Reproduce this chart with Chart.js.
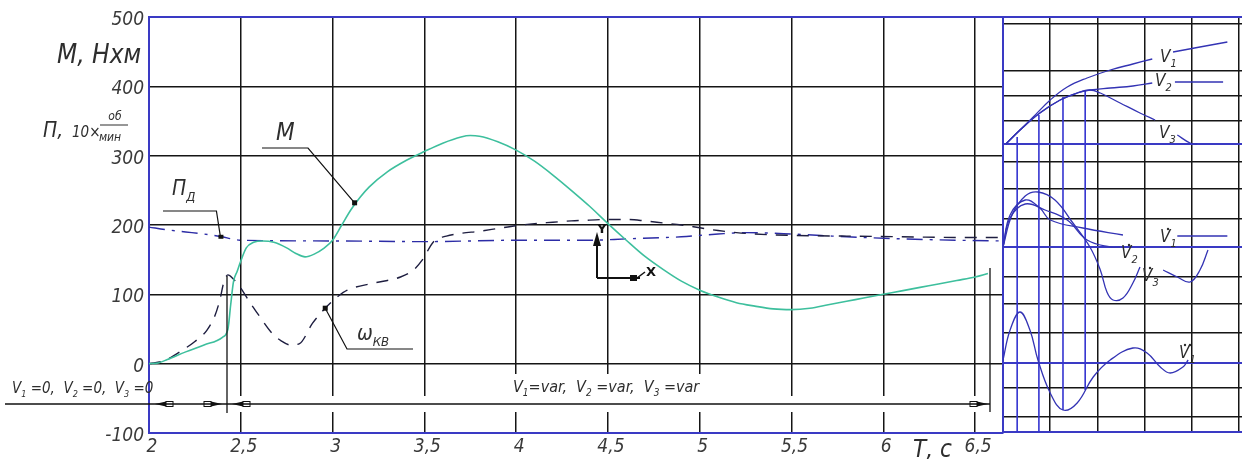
<!DOCTYPE html>
<html><head><meta charset="utf-8">
<script src="https://cdn.jsdelivr.net/npm/chart.js@4.4.1/dist/chart.umd.min.js"></script>
<style>
html,body{margin:0;padding:0;background:#fff;overflow:hidden;}
#wrap{position:relative;width:1242px;height:459px;}
#main{position:absolute;left:0;top:0;}
#sidebox{position:absolute;left:1003px;top:0;width:239px;height:459px;}
</style></head><body>
<div id="wrap">
<canvas id="main" width="1242" height="459"></canvas>
<div id="sidebox"><canvas id="side" width="239" height="459"></canvas></div>
</div>
<script>
// ---------- main chart data ----------
const timeM  = [2.0,2.05,2.1,2.2,2.3,2.4,2.43,2.445,2.46,2.48,2.5,2.53,2.57,2.62,2.68,2.75,2.8,2.85,2.9,2.95,3.0,3.05,3.1,3.15,3.2,3.3,3.4,3.5,3.6,3.7,3.75,3.8,3.9,4.0,4.1,4.2,4.3,4.4,4.5,4.6,4.7,4.8,4.9,5.0,5.1,5.2,5.3,5.4,5.5,5.6,5.7,5.8,5.9,6.0,6.1,6.2,6.3,6.4,6.5,6.57];
const torqueM= [0,1,6,17,27,38,50,85,118,133,148,167,175,177,175,167,159,154,158,166,178,200,222,240,255,277,293,306,318,327,329,328,320,308,292,272,250,227,202,178,155,136,119,106,96,88,83,79,78,80,85,90,95,100,105,110,115,120,125,130];

const timeW  = [2.0,2.08,2.185,2.25,2.315,2.36,2.386,2.41,2.43,2.46,2.495,2.55,2.59,2.67,2.72,2.77,2.82,2.89,2.96,3.02,3.08,3.22,3.37,3.44,3.49,3.55,3.62,3.7,3.8,3.9,4.0,4.1,4.2,4.3,4.4,4.5,4.6,4.7,4.8,4.9,5.0,5.1,5.2,5.3,5.5,5.8,6.1,6.4,6.65];
const omegaKV= [0,4,20,32,48,70,92,120,128,122,111,88,73,44,33,27,29,58,80,95,106,116,125,135,150,176,184,188,191,195,199,202,204,206,207,208,208,206,203,200,196,192,189,187,185,184,183,182,182];

const timePd = [2.0,2.1,2.2,2.3,2.4,2.45,2.5,3.0,3.5,4.0,4.4,4.6,4.9,5.1,5.25,5.5,5.8,6.1,6.4,6.65];
const speedPd= [197,193,190,187,183,180,178,177,176,178,178,180,183,187,189,187,183,180,178,177];

const xTickValues = [2,2.5,3,3.5,4,4.5,5,5.5,6,6.5];
const yTickValues = [-100,0,100,200,300,400,500];

// ---------- right panel data (panel units) ----------
const panelXGrid = [0,1,2,3,4,5];
const panelYGrid = [0,15,44,69,99,128,155,185,213,243,270,288,311,336,361,408,415];
const panelBlueRows = [0,69,185,288,415];

const v1X = [0.06,0.36,0.64,1.0,1.36,1.78,2.27,2.75,3.16,3.38,3.60,4.17,4.75];
const v1Y = [288,302,315,332,345,354,362,368,373,null,380,385,390];
const v2X = [0.06,0.36,0.78,1.21,1.57,1.84,2.27,2.75,3.16,3.40,3.64,4.66];
const v2Y = [288,302,319,332,339,342,344,346,349,null,350,350];
const v3X = [0.06,0.36,0.78,1.21,1.57,1.84,2.06,2.48,2.90,3.22,3.45,3.69,3.96,4.11];
const v3Y = [288,302,319,332,339,342,339,329,319,312,null,297,289,288];

const vd1X = [0.0,0.15,0.47,0.78,1.0,1.69,2.54,3.1,3.69,4.75];
const vd1Y = [185,217,232,224,212,204,197,null,196,196];
const vd2X = [0.0,0.15,0.47,0.89,1.36,1.78,2.27,2.48];
const vd2Y = [185,214,228,222,212,192,185,185];
const vd3X = [0.0,0.19,0.47,0.74,1.10,1.48,1.84,2.06,2.20,2.33,2.54,2.75,2.90,3.15,3.39,3.69,3.96,4.17,4.34];
const vd3Y = [185,217,236,240,232,209,185,162,140,132,134,149,165,null,162,155,150,162,182];
const vdd1X = [0,0.15,0.36,0.57,0.74,1.0,1.27,1.57,1.91,2.27,2.75,3.05,3.33,3.54,3.81,3.92];
const vdd1Y = [72,102,120,102,72,39,22,29,55,72,84,79,65,59,65,72];

const dropX   = [0.30,0.76,1.27,1.74];
const dropTop = [295,317,335,341];
const dropBot = [0,0,22,42];

// ---------- helpers ----------
const FONT = "'Liberation Sans Narrow','DejaVu Sans Condensed',sans-serif";
const BLUE = '#3a3ac4';
const INK = '#2e2e2e';
const pts = (xs, ys) => xs.map((x,i)=>({x:x, y:ys[i]}));

function sub(ctx, parts, x, y, size){
  let cx = x;
  for (const [t, s] of parts){
    ctx.font = 'italic ' + (s ? Math.round(size*0.62) : size) + 'px ' + FONT;
    ctx.fillText(t, cx, s ? y + size*0.28 : y);
    cx += ctx.measureText(t).width;
  }
  return cx;
}
function line(ctx, pts, w){
  ctx.beginPath(); ctx.lineWidth = w||1.2;
  ctx.moveTo(pts[0][0], pts[0][1]);
  for (let i=1;i<pts.length;i++) ctx.lineTo(pts[i][0], pts[i][1]);
  ctx.stroke();
}
function arrow(ctx, tip, y, dir){
  ctx.fillStyle = '#111';
  ctx.beginPath();
  ctx.moveTo(tip, y); ctx.lineTo(tip - dir*11, y-2.5); ctx.lineTo(tip - dir*11, y+2.5); ctx.closePath(); ctx.fill();
  ctx.lineWidth = 1; ctx.strokeStyle = '#111';
  ctx.strokeRect(Math.min(tip - dir*11, tip - dir*18), y-2.5, 7, 5);
}

// ---------- main chart ----------
const mainDecor = {
  id:'mainDecor',
  beforeDatasetsDraw(chart){
    const c = chart.ctx, a = chart.chartArea;
    c.save();
    c.fillStyle = '#fff';
    c.fillRect(a.left+1, 396, a.right-a.left-2, 16);
    c.fillRect(508, 374, 200, 24);
    c.restore();
  },
  afterDraw(chart){
    const c = chart.ctx, a = chart.chartArea, xs = chart.scales.x, ys = chart.scales.y;
    c.save();
    c.strokeStyle = BLUE;
    line(c, [[a.left, a.top],[a.right, a.top],[a.right, a.bottom]], 2);
    c.strokeStyle = '#111';
    line(c, [[5,404],[990,404]], 1.3);
    line(c, [[227,276],[227,413]], 1.3);
    line(c, [[990,268],[990,412]], 1.3);
    arrow(c, 155, 404, -1);
    arrow(c, 222, 404, 1);
    arrow(c, 232, 404, -1);
    arrow(c, 988, 404, 1);
    c.fillStyle = INK; c.textBaseline = 'alphabetic'; c.textAlign = 'left';
    sub(c, [['V',0],['1',1],[' =0,  V',0],['2',1],[' =0,  V',0],['3',1],[' =0',0]], 12, 393, 15);
    sub(c, [['V',0],['1',1],['=var,  V',0],['2',1],[' =var,  V',0],['3',1],[' =var',0]], 513, 392, 16);
    c.font = 'italic 26px ' + FONT;
    c.fillText('М, Нхм', 57, 63);
    c.font = 'italic 21px ' + FONT;
    c.fillText('П,', 43, 137);
    c.font = 'italic 15px ' + FONT;
    c.fillText('10×', 72, 137);
    c.strokeStyle = INK; line(c, [[100,125],[128,125]], 1);
    c.font = 'italic 12px ' + FONT; c.textAlign = 'center';
    c.fillText('об', 115, 120);
    c.fillText('мин', 110, 141);
    c.textAlign = 'left';
    c.font = 'italic 24px ' + FONT;
    c.fillText('Т, с', 913, 457);
    sub(c, [['П',0],['Д',1]], 172, 195, 21);
    c.strokeStyle = '#111';
    const pdx = xs.getPixelForValue(2.4), pdy = ys.getPixelForValue(183);
    line(c, [[163,211],[pdx-6,211],[pdx-2,pdy]], 1.2);
    c.fillStyle = '#111'; c.fillRect(pdx-4, pdy-2, 5, 4);
    c.fillStyle = INK;
    c.font = 'italic 24px ' + FONT; c.fillText('M', 276, 140);
    const mx = xs.getPixelForValue(3.12), my = ys.getPixelForValue(232);
    line(c, [[262,148],[308,148],[mx,my]], 1.2);
    c.fillStyle = '#111'; c.fillRect(mx-2.5, my-2.5, 5, 5);
    const wx = xs.getPixelForValue(2.96), wy = ys.getPixelForValue(80);
    line(c, [[wx,wy],[347,349],[413,349]], 1.2);
    c.fillRect(wx-2.5, wy-2.5, 5, 5);
    c.fillStyle = INK;
    sub(c, [['ω',0],['КВ',1]], 357, 340, 21);
    c.strokeStyle = '#111'; c.fillStyle = '#111';
    line(c, [[597,278],[597,238]], 2);
    line(c, [[597,278],[640,278]], 2);
    c.beginPath(); c.moveTo(597,232); c.lineTo(593,246); c.lineTo(601,246); c.closePath(); c.fill();
    c.fillRect(630,275,7,6);
    line(c, [[637,278],[645,272]], 1.5);
    c.font = 'bold 13px DejaVu Sans'; c.textAlign='center';
    c.fillText('Y', 602, 233);
    c.fillText('X', 651, 276);
    c.restore();
  }
};

new Chart(document.getElementById('main'), {
  type:'line',
  data:{datasets:[
    {label:'M', data:pts(timeM, torqueM), borderColor:'#3dbf9d', borderWidth:1.6, pointRadius:0, cubicInterpolationMode:'monotone', fill:false},
    {label:'ωКВ', data:pts(timeW, omegaKV), borderColor:'#1e1e40', borderWidth:1.4, borderDash:[12,9], pointRadius:0, cubicInterpolationMode:'monotone', fill:false},
    {label:'ПД', data:pts(timePd, speedPd), borderColor:'#2c2ca6', borderWidth:1.4, borderDash:[16,7,3,7], pointRadius:0, cubicInterpolationMode:'monotone', fill:false}
  ]},
  options:{
    responsive:false, animation:false, devicePixelRatio:1,
    layout:{padding:{top:17,right:239,left:0,bottom:0}},
    plugins:{legend:{display:false}, tooltip:{enabled:false}},
    scales:{
      x:{type:'linear', min:2, max:6.652,
        afterBuildTicks(s){ s.ticks = xTickValues.map(v=>({value:v})); },
        afterFit(s){ s.height = 26; },
        grid:{color:ctx=> (ctx.tick && ctx.tick.value===2) ? 'rgba(0,0,0,0)' : '#151515', lineWidth:1.5, drawTicks:false},
        border:{color:BLUE, width:2},
        ticks:{callback:v=>String(v).replace('.',','), autoSkip:false, maxRotation:0, padding:3, labelOffset:3, color:'#3a3a3a',
               font:{family:FONT, size:19, style:'italic'}}
      },
      y:{min:-100, max:500,
        afterBuildTicks(s){ s.ticks = yTickValues.map(v=>({value:v})); },
        afterFit(s){ s.width = 149; },
        grid:{color:ctx=> (ctx.tick && (ctx.tick.value===-100 || ctx.tick.value===500)) ? 'rgba(0,0,0,0)' : '#151515', lineWidth:1.5, drawTicks:false},
        border:{color:BLUE, width:2},
        ticks:{callback:v=> v<0 ? '-'+Math.abs(v) : String(v), padding:5, labelOffset:3, color:'#3a3a3a',
               font:{family:FONT, size:19, style:'italic'}}
      }
    }
  },
  plugins:[mainDecor]
});

// ---------- right panel ----------
const sideDecor = {
  id:'sideDecor',
  afterDraw(chart){
    const c = chart.ctx;
    c.save();
    c.fillStyle = INK; c.textBaseline='alphabetic';
    const o = 1003;
    sub(c, [['V',0],['1',1]], 1160-o, 62, 17);
    sub(c, [['V',0],['2',1]], 1155-o, 86, 17);
    sub(c, [['V',0],['3',1]], 1159-o, 138, 17);
    sub(c, [['V',0],['1',1]], 1160-o, 242, 17);
    sub(c, [['V',0],['2',1]], 1121-o, 258, 17);
    sub(c, [['V',0],['3',1]], 1142-o, 281, 17);
    sub(c, [['V',0],['1',1]], 1179-o, 358, 17);
    c.beginPath(); c.arc(1168-o, 229, 1.2, 0, 6.3); c.fill();
    c.beginPath(); c.arc(1129-o, 245, 1.2, 0, 6.3); c.fill();
    c.beginPath(); c.arc(1150-o, 268, 1.2, 0, 6.3); c.fill();
    c.beginPath(); c.arc(1185-o, 345, 1.2, 0, 6.3); c.fill();
    c.beginPath(); c.arc(1190-o, 345, 1.2, 0, 6.3); c.fill();
    c.restore();
  }
};
const curve = (xs, ys) => ({data:pts(xs, ys), borderColor:'#3333b4', borderWidth:1.3, pointRadius:0, tension:0.4, spanGaps:false, fill:false});
const panelSets = [curve(v1X,v1Y), curve(v2X,v2Y), curve(v3X,v3Y), curve(vd1X,vd1Y), curve(vd2X,vd2Y), curve(vd3X,vd3Y), curve(vdd1X,vdd1Y)];
dropX.forEach((x,i)=> panelSets.push({data:[{x:x,y:dropTop[i]},{x:x,y:dropBot[i]}], borderColor:'#3535d0', borderWidth:1.6, pointRadius:0, fill:false}));

new Chart(document.getElementById('side'), {
  type:'line',
  data:{datasets:panelSets},
  options:{
    responsive:false, animation:false, devicePixelRatio:1,
    layout:{padding:{top:17,bottom:27,left:0,right:0}},
    plugins:{legend:{display:false}, tooltip:{enabled:false}},
    scales:{
      x:{type:'linear', min:0, max:5.06,
        afterBuildTicks(s){ s.ticks = panelXGrid.map(v=>({value:v})); },
        afterFit(s){ s.height = 0; },
        ticks:{display:false},
        grid:{color:ctx=> (ctx.tick && ctx.tick.value===0) ? 'rgba(0,0,0,0)' : '#151515', lineWidth:1.5, drawTicks:false},
        border:{display:false}
      },
      y:{min:0, max:415,
        afterBuildTicks(s){ s.ticks = panelYGrid.map(v=>({value:v})); },
        afterFit(s){ s.width = 0; },
        ticks:{display:false},
        grid:{color:ctx=> (ctx.tick && panelBlueRows.includes(ctx.tick.value)) ? BLUE : '#151515', lineWidth:ctx=> (ctx.tick && panelBlueRows.includes(ctx.tick.value)) ? 2 : 1.5, drawTicks:false},
        border:{color:BLUE, width:2}
      }
    }
  },
  plugins:[sideDecor]
});
</script>
</body></html>
